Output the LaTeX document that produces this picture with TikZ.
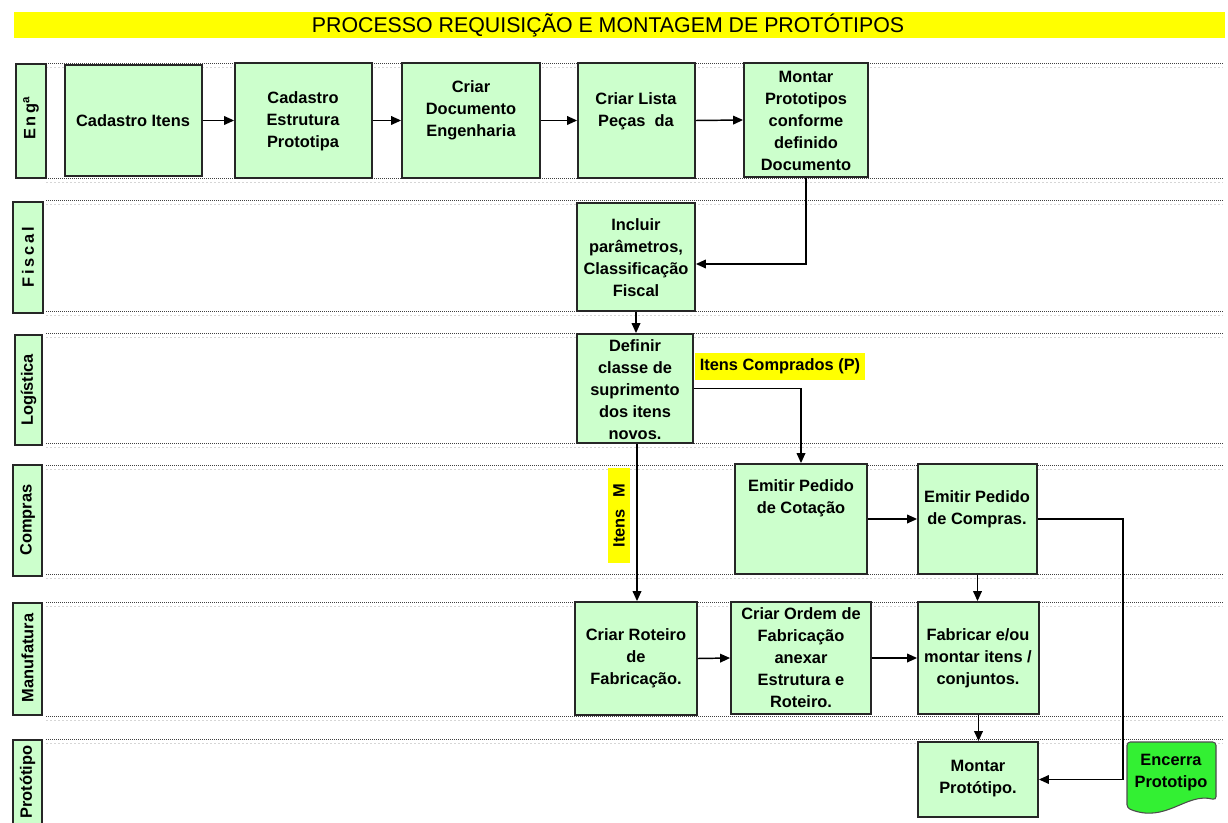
\documentclass[tikz,border=0pt]{standalone}
\usepackage{fontspec}
\setmainfont{Liberation Sans}
\usetikzlibrary{arrows.meta,fit}
\definecolor{boxgreen}{HTML}{CCFFCC}
\definecolor{endgreen}{HTML}{33F033}
\definecolor{bandyellow}{HTML}{FFFF00}
\begin{document}
\begin{tikzpicture}[x=0.75pt,y=-0.75pt,
  proc/.style={draw=black!85, line width=1.35pt, fill=boxgreen, inner sep=0pt},
  lanebox/.style={draw=black!85, line width=1.2pt, fill=boxgreen, inner sep=0pt},
  txt/.style={font=\fontsize{12.3}{16.5}\selectfont\bfseries, align=center, inner sep=0pt},
  lanetxt/.style={txt, rotate=90},
  sep/.style={black!75, line width=0.6pt, dash pattern=on 0.75pt off 0.75pt},
  sepshade/.style={black!16, line width=0.6pt, dash pattern=on 1.5pt off 1.5pt},
  arr/.style={line width=1.1pt, -{Triangle[length=7.5pt,width=6.5pt]}},
  conn/.style={line width=1.1pt},
  tag/.style={fill=bandyellow, inner sep=0pt}
]
\useasboundingbox (0,0) rectangle (1228,823);
\fill[white] (0,0) rectangle (1228,823);

% title band
\node[tag, fit={(14,12) (1225,38)}] (band) {};
\node[font=\fontsize{16}{18}\selectfont, inner sep=0pt] (title) at (608,25.5)
  {PROCESSO REQUISIÇÃO E MONTAGEM DE PROTÓTIPOS};

% swimlane separators
\foreach \yy in {63,178,200,311,333,443,465,574,602,716,739} {
  \draw[sepshade] (46,\yy+4.5) -- (1223,\yy+4.5);
  \draw[sep] (46,\yy) -- (1223,\yy);
}

% lane labels
\node[lanebox, fit={(16,64) (46,178)}] (laneeng) {};
\node[lanetxt] at (31,118) {E\,n\,g\textsuperscript{a}};
\node[lanebox, fit={(13,202) (43,313)}] (lanefis) {};
\node[lanetxt] at (28,257) {F\,i\,s\,c\,a\,l};
\node[lanebox, fit={(15,335) (42,445)}] (lanelog) {};
\node[lanetxt] at (28.5,390) {Logística};
\node[lanebox, fit={(13,465) (42,576)}] (lanecom) {};
\node[lanetxt] at (27.5,520) {Compras};
\node[lanebox, fit={(13,603) (42,715)}] (laneman) {};
\node[lanetxt] at (27.5,658) {Manufatura};
\node[lanebox, fit={(13,740) (42,832)}] (lanepro) {};
\node[lanetxt] at (27.5,782) {Protótipo};

% process boxes
\node[proc, fit={(65,65) (202,176)}] (cadi) {};
\node[txt] at (133,121) {Cadastro Itens};
\node[proc, fit={(235,63) (372,178)}] (cade) {};
\node[txt] at (303,121) {Cadastro\\Estrutura\\Prototipa};
\node[proc, fit={(402,63) (540,178)}] (cdoc) {};
\node[txt] at (471,110) {Criar\\Documento\\Engenharia};
\node[proc, fit={(578,63) (695,178)}] (clst) {};
\node[txt] at (636,111) {Criar Lista\\Peças\ \ da};
\node[proc, fit={(744,63) (868,177)}] (mont) {};
\node[txt] at (806,121) {Montar\\Prototipos\\conforme\\definido\\Documento};

\node[proc, fit={(577,203) (695,311)}] (incl) {};
\node[txt] at (636,258) {Incluir\\parâmetros,\\Classificação\\Fiscal};

\node[proc, fit={(577,334) (693,443)}] (defi) {};
\node[txt] at (635,390) {Definir\\classe de\\suprimento\\dos itens\\novos.};

\node[proc, fit={(735,464) (867,574)}] (cota) {};
\node[txt] at (801,498) {Emitir Pedido\\de Cotação};
\node[proc, fit={(918,464) (1037,574)}] (comp) {};
\node[txt] at (977,509) {Emitir Pedido\\de Compras.};

\node[proc, fit={(575,602) (697,715)}] (rote) {};
\node[txt] at (636,658) {Criar Roteiro\\de\\Fabricação.};
\node[proc, fit={(731,602) (871,714)}] (orde) {};
\node[txt] at (801,658) {Criar Ordem de\\Fabricação\\anexar\\Estrutura e\\Roteiro.};
\node[proc, fit={(918,602) (1039,714)}] (fabr) {};
\node[txt] at (978,658) {Fabricar e/ou\\montar itens /\\conjuntos.};

\node[proc, fit={(918,742) (1038,817)}] (mpro) {};
\node[txt] at (978,779) {Montar\\Protótipo.};

% terminal document shape
\filldraw[fill=endgreen, draw=black!70, line width=0.8pt, rounded corners=2.5pt]
  (1127,742) -- (1216,742) -- (1216,800)
  .. controls (1186,792) and (1166,824) .. (1127,808) -- cycle;
\node[txt] (encerra) at (1171,773) {Encerra\\Prototipo};

% branch tags
\node[tag, fit={(695,353) (865,380)}] (tagp) {};
\node[txt] at (tagp.center) {Itens Comprados (P)};
\node[tag, fit={(608,468) (630,563)}] (tagm) {};
\node[lanetxt] at (tagm.center) {Itens\hspace{0.7em}M};

% connectors
\draw[arr] (cadi.east) -- (cade.west);
\draw[arr] (cade.east) -- (cdoc.west);
\draw[arr] (cdoc.east) -- (clst.west);
\draw[arr] (clst.east) -- (mont.west);
\draw[arr] (mont.south) |- ([yshift=-5.25pt]incl.east);
\draw[arr] (incl.south) -- (incl.south |- defi.north);
\draw[arr] (defi.east) -| (cota.north);
\draw[arr] ([xshift=1.5pt]defi.south) -- ([xshift=1.5pt]defi.south |- rote.north);
\draw[arr] (cota.east) -- (comp.west);
\coordinate (bend) at (1123,519);
\draw[arr] (comp.east) -- (comp.east -| bend) |- (mpro.east);
\draw[arr] (comp.south) -- (comp.south |- fabr.north);
\draw[arr] (rote.east) -- (orde.west);
\draw[arr] (orde.east) -- (fabr.west);
\draw[arr] (fabr.south) -- (fabr.south |- mpro.north);
\end{tikzpicture}
\end{document}
